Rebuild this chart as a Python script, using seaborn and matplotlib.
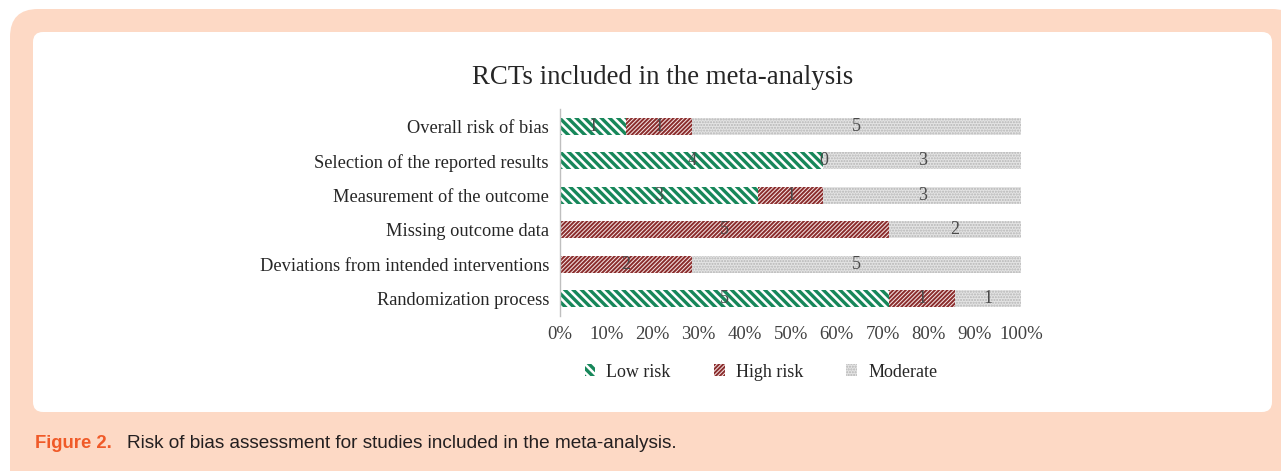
import numpy as np
import pandas as pd
import matplotlib
matplotlib.use("Agg")
import matplotlib.pyplot as plt
import seaborn as sns
from matplotlib.patches import FancyBboxPatch, Patch

# Data (number of RCTs per judgement, 7 studies in total)
domains = ["Overall risk of bias",
           "Selection of the reported results",
           "Measurement of the outcome",
           "Missing outcome data",
           "Deviations from intended interventions",
           "Randomization process"]
low_risk = [1, 4, 3, 0, 0, 5]
high_risk = [1, 0, 1, 5, 2, 1]
moderate = [5, 3, 3, 2, 5, 1]
series_names = ["Low risk", "High risk", "Moderate"]
x_ticks = [0, 10, 20, 30, 40, 50, 60, 70, 80, 90, 100]

df = pd.DataFrame({"domain": domains, "Low risk": low_risk,
                   "High risk": high_risk, "Moderate": moderate})
total = df[series_names].sum(axis=1)
pct = df[series_names].div(total, axis=0) * 100
df["cum_low"] = pct["Low risk"]
df["cum_high"] = pct["Low risk"] + pct["High risk"]
df["cum_mod"] = df["cum_high"] + pct["Moderate"]

sns.set_theme(style="white")
plt.rcParams["font.family"] = ["Liberation Serif", "DejaVu Serif"]
plt.rcParams["hatch.linewidth"] = 1.2

fig = plt.figure(figsize=(12.81, 4.71), dpi=100)
fig.patch.set_facecolor("white")

# peach frame + white panel
peach = "#FDD9C5"
fig.add_artist(FancyBboxPatch((0.10, -0.5), 12.9, 5.12,
                              boxstyle="round,pad=0,rounding_size=0.28",
                              transform=fig.dpi_scale_trans,
                              facecolor=peach, edgecolor="none", zorder=0))
fig.add_artist(FancyBboxPatch((0.33, 0.59), 12.39, 3.80,
                              boxstyle="round,pad=0,rounding_size=0.1",
                              transform=fig.dpi_scale_trans,
                              facecolor="white", edgecolor="none", zorder=0))

ax = fig.add_axes([0.4372, 0.329, 0.3599, 0.4395])
ax.set_facecolor("none")

styles = {
    "Moderate": dict(face="#E4E4E4", hatch_col="#B5B5B5", hatch="......", lw=1.0),
    "High risk": dict(face="#F6E6E6", hatch_col="#8A2C2C", hatch="////////", lw=1.4),
    "Low risk": dict(face="white", hatch_col="#17875A", hatch="\\\\\\\\", lw=2.4),
}
layers = [("Moderate", "cum_mod"), ("High risk", "cum_high"), ("Low risk", "cum_low")]
for name, col in layers:
    n_before = len(ax.patches)
    sns.barplot(data=df, y="domain", x=col, orient="h", width=0.5,
                color=styles[name]["face"], ax=ax, saturation=1)
    for p in ax.patches[n_before:]:
        p.set_facecolor(styles[name]["face"])
        p.set_edgecolor(styles[name]["hatch_col"])
        p.set_hatch(styles[name]["hatch"])
        p.set_linewidth(0)
        try:
            p.set_hatch_linewidth(styles[name]["lw"])
        except AttributeError:
            pass

# value labels
starts = {"Low risk": np.zeros(len(df)), "High risk": df["cum_low"].values,
          "Moderate": df["cum_high"].values}
for name in series_names:
    for i in range(len(df)):
        v = df[name].iloc[i]
        s = starts[name][i]
        w = pct[name].iloc[i]
        if v == 0 and s == 0:
            continue
        ax.text(s + w / 2, i, str(v), ha="center", va="center",
                fontsize=13, color="#4a4a4a")

ax.set_xlim(0, 100)
ax.set_ylim(5.5, -0.5)
ax.set_xticks(x_ticks)
ax.set_xticklabels([f"{t}%" for t in x_ticks], fontsize=13.5, color="#404040")
ax.tick_params(axis="y", labelsize=13.2, labelcolor="#262626", length=0, pad=8)
ax.tick_params(axis="x", length=0, pad=7)
ax.set_xlabel("")
ax.set_ylabel("")
for side in ["top", "right", "bottom"]:
    ax.spines[side].set_visible(False)
ax.spines["left"].set_color("#BFBFBF")
ax.spines["left"].set_linewidth(1)

fig.text(0.5176, 0.8365, "RCTs included in the meta-analysis", ha="center",
         va="center", fontsize=19.4, color="#262626")

handles = []
for n in series_names:
    h = Patch(facecolor=styles[n]["face"], edgecolor=styles[n]["hatch_col"],
              hatch=styles[n]["hatch"], linewidth=0)
    handles.append(h)
leg = fig.legend(handles, series_names, loc="center", bbox_to_anchor=(0.594, 0.21),
                 ncol=3, frameon=False, fontsize=13, handlelength=0.6,
                 handleheight=0.6, columnspacing=2.4, handletextpad=0.6)
for h, n in zip(leg.legend_handles, series_names):
    try:
        h.set_hatch_linewidth(styles[n]["lw"])
    except AttributeError:
        pass

cap_font = ["Liberation Sans", "DejaVu Sans"]
fig.text(0.0273, 0.0594, "Figure 2.", ha="left", va="center",
         fontsize=13.3, color="#F05A28", fontweight="bold", family=cap_font)
fig.text(0.0991, 0.0594, "Risk of bias assessment for studies included in the meta-analysis.",
         ha="left", va="center", fontsize=13.7, color="#231F20", family=cap_font)

fig.savefig("out.png", dpi=100)
